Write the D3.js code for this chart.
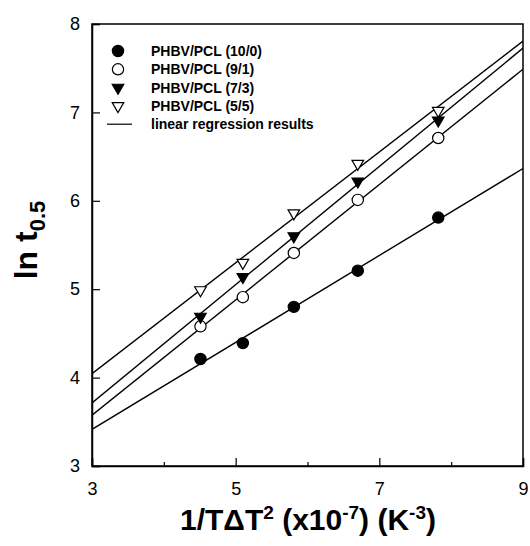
<!DOCTYPE html>
<html>
<head>
<meta charset="utf-8">
<script src="https://cdn.jsdelivr.net/npm/d3@7"></script>
<style>
  body { margin: 0; background: #fff; }
  text { font-family: "Liberation Sans", Arial, sans-serif; fill: #000; }
</style>
</head>
<body>
<svg width="530" height="546"></svg>
<script>
// data
const xValues = [4.51, 5.10, 5.81, 6.70, 7.82];
const series = [
    { name: 'PHBV/PCL (10/0)', symbol: 'circle', filled: true, values: [4.21, 4.39, 4.80, 5.21, 5.81] },
    { name: 'PHBV/PCL (9/1)', symbol: 'circle', filled: false, values: [4.58, 4.91, 5.41, 6.01, 6.71] },
    { name: 'PHBV/PCL (7/3)', symbol: 'triangleDown', filled: true, values: [4.69, 5.14, 5.60, 6.22, 6.91] },
    { name: 'PHBV/PCL (5/5)', symbol: 'triangleDown', filled: false, values: [4.99, 5.30, 5.86, 6.42, 7.02] }
];
const xTicks = [3, 5, 7, 9];
const xMinorTicks = [4, 6, 8];
const yTicks = [3, 4, 5, 6, 7, 8];

const svg = d3.select('svg');
const margin = { left: 92, right: 7, top: 24, bottom: 80 };
const width = 530 - margin.left - margin.right;
const height = 546 - margin.top - margin.bottom;

const x = d3.scaleLinear().domain([3, 9]).range([0, width]);
const y = d3.scaleLinear().domain([3, 8]).range([height, 0]);

const g = svg.append('g')
    .attr('transform', `translate(${margin.left},${margin.top})`);

g.append('clipPath').attr('id', 'clip')
    .append('rect').attr('width', width).attr('height', height);

// frame
g.append('rect')
    .attr('width', width).attr('height', height)
    .attr('fill', 'none').attr('stroke', '#000').attr('stroke-width', 1.5);

// axes (ticks inward)
g.append('g')
    .attr('transform', `translate(0,${height})`)
    .call(d3.axisBottom(x).tickValues(xTicks).tickSize(-8).tickPadding(16).tickFormat(d3.format('d')));
g.append('g')
    .attr('transform', `translate(0,${height})`)
    .call(d3.axisBottom(x).tickValues(xMinorTicks).tickSize(-4).tickFormat(''))
    .call(a => a.select('.domain').remove());
g.append('g')
    .call(d3.axisLeft(y).tickValues(yTicks).tickSize(-8).tickPadding(12).tickFormat(d3.format('d')));

g.selectAll('.domain').attr('stroke-width', 1.5);
g.selectAll('.tick line').attr('stroke-width', 1.2);
g.selectAll('.tick text')
    .attr('font-size', 18)
    .style('font-family', '"Liberation Sans", Arial, sans-serif');

// regression lines from least squares fit
function fit(xs, ys) {
    const mx = d3.mean(xs), my = d3.mean(ys);
    let sxy = 0, sxx = 0;
    xs.forEach((v, i) => { sxy += (v - mx) * (ys[i] - my); sxx += (v - mx) * (v - mx); });
    const b = sxy / sxx;
    return { a: my - b * mx, b: b };
}

const line = d3.line().x(d => x(d[0])).y(d => y(d[1]));
g.append('g').attr('clip-path', 'url(#clip)')
    .selectAll('path')
    .data(series)
    .enter()
    .append('path')
    .attr('d', s => {
        const f = fit(xValues, s.values);
        return line(x.domain().map(v => [v, f.a + f.b * v]));
    })
    .attr('fill', 'none')
    .attr('stroke', '#000')
    .attr('stroke-width', 1.4);

// markers
const circle = d3.symbol().type(d3.symbolCircle).size(100);
const tri = d3.symbol().type(d3.symbolTriangle).size(58);
function marker(sel, s) {
    sel.attr('d', s.symbol === 'circle' ? circle() : tri())
        .attr('fill', s.filled ? '#000' : '#fff')
        .attr('stroke', '#000')
        .attr('stroke-width', 1.2);
}

series.forEach(s => {
    g.append('g')
        .selectAll('path')
        .data(s.values)
        .enter()
        .append('path')
        .attr('transform', (d, i) => `translate(${x(xValues[i])},${y(d)})` + (s.symbol === 'circle' ? '' : ' rotate(180)'))
        .call(marker, s);
});

// legend
const legend = g.append('g').attr('transform', 'translate(26,27)');
const rowH = 18.3;
series.forEach((s, i) => {
    const row = legend.append('g').attr('transform', `translate(0,${i * rowH})`);
    row.append('path')
        .attr('transform', s.symbol === 'circle' ? '' : 'rotate(180)')
        .call(marker, s);
    row.append('text')
        .attr('x', 33).attr('y', 5)
        .attr('font-size', 14).attr('font-weight', 'bold')
        .text(s.name);
});
const lrow = legend.append('g').attr('transform', `translate(0,${series.length * rowH})`);
lrow.append('line').attr('x1', -11).attr('x2', 14).attr('stroke', '#000').attr('stroke-width', 1.2);
lrow.append('text')
    .attr('x', 33).attr('y', 5)
    .attr('font-size', 14).attr('font-weight', 'bold')
    .text('linear regression results');

// axis titles
const xt = svg.append('text')
    .attr('x', 308).attr('y', 530)
    .attr('text-anchor', 'middle')
    .attr('font-size', 30).attr('font-weight', 'bold');
xt.append('tspan').text('1/T\u0394T');
xt.append('tspan').attr('dy', -11).attr('font-size', 19).text('2');
xt.append('tspan').attr('dy', 11).text(' (x10');
xt.append('tspan').attr('dy', -11).attr('font-size', 19).text('-7');
xt.append('tspan').attr('dy', 11).text(') (K');
xt.append('tspan').attr('dy', -11).attr('font-size', 19).text('-3');
xt.append('tspan').attr('dy', 11).text(')');

const yt = svg.append('text')
    .attr('transform', 'translate(37,240) rotate(-90)')
    .attr('text-anchor', 'middle')
    .attr('font-size', 32).attr('font-weight', 'bold');
yt.append('tspan').text('ln t');
yt.append('tspan').attr('dy', 8).attr('font-size', 22).text('0.5');
</script>
</body>
</html>
